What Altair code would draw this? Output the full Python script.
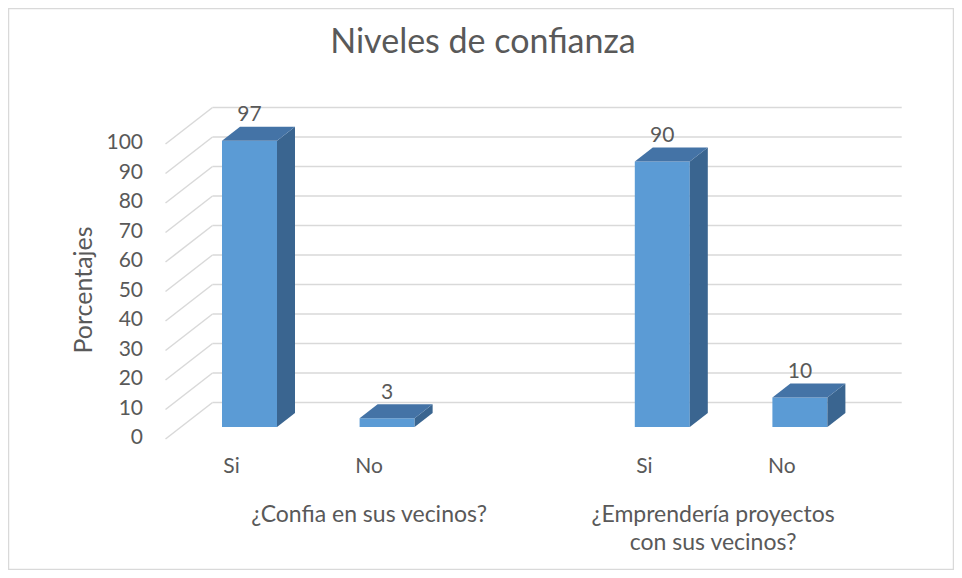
import altair as alt
import pandas as pd

# ---------------- data ----------------
chart_title = "Niveles de confianza"
y_title = "Porcentajes"
questions = ["¿Confia en sus vecinos?", "¿Emprendería proyectos\ncon sus vecinos?"]
question_span = [(0, 2), (3, 4)]          # category slots covered by each question
answers = ["Si", "No", "Si", "No"]
answer_slot = [0, 1, 3, 4]
values = [97, 3, 90, 10]
y_ticks = [0, 10, 20, 30, 40, 50, 60, 70, 80, 90, 100]

# ---------------- layout / style ----------------
W, H = 946, 562
PX_X = 137.6          # px per category slot
PX_Y = 2.95           # px per percentage point
X0_PX = 241.5         # svg x of slot 0
Y0_PX = 431.0         # svg y of value 0 on front plane


def ux(px):
    return px / PX_X


def uy(px):
    return px / PX_Y


x_dom = [-X0_PX / PX_X, (W - X0_PX) / PX_X]
y_dom = [-(H - Y0_PX) / PX_Y, Y0_PX / PX_Y]

BAR_HALF = ux(27.5)
BAR_BASE = uy(12)
BAR_DX, BAR_DY = ux(18), uy(14)
WALL_DX, WALL_DY = ux(47), uy(36.5)
FLOOR_LEFT = ux(157.5 - X0_PX)
WALL_RIGHT = ux(893.7 - X0_PX)

FONT = "Lato"
TXT = "#595959"
GRID = "#d9d9d9"
C_FRONT = "#5b9bd5"
C_TOP = "#4473a6"
C_SIDE = "#3a6590"
FS = 21

xs = alt.Scale(domain=x_dom, nice=False, zero=False)
ys = alt.Scale(domain=y_dom, nice=False, zero=False)


def X(f):
    return alt.X(f, type="quantitative", scale=xs, axis=None)


def Y(f):
    return alt.Y(f, type="quantitative", scale=ys, axis=None)


# ---------------- tables ----------------
grid_back = pd.DataFrame({
    "x": [FLOOR_LEFT + WALL_DX] * len(y_ticks),
    "x2": [WALL_RIGHT] * len(y_ticks),
    "y": [v + WALL_DY for v in y_ticks],
})
grid_side = pd.DataFrame({
    "x": [FLOOR_LEFT] * len(y_ticks),
    "x2": [FLOOR_LEFT + WALL_DX] * len(y_ticks),
    "y": [float(v) for v in y_ticks],
    "y2": [v + WALL_DY for v in y_ticks],
})

front = pd.DataFrame({
    "bar": list(range(len(values))),
    "xl": [s - BAR_HALF for s in answer_slot],
    "xr": [s + BAR_HALF for s in answer_slot],
    "lo": [BAR_BASE] * len(values),
    "hi": [BAR_BASE + v for v in values],
})

side_rows, top_rows = [], []
for i, (s, v) in enumerate(zip(answer_slot, values)):
    side_rows.append({"bar": i, "x": s + BAR_HALF, "lo": BAR_BASE, "hi": BAR_BASE + v})
    side_rows.append({"bar": i, "x": s + BAR_HALF + BAR_DX,
                      "lo": BAR_BASE + BAR_DY, "hi": BAR_BASE + v + BAR_DY})
    top_rows.append({"bar": i, "y": BAR_BASE + v, "xl": s - BAR_HALF, "xr": s + BAR_HALF})
    top_rows.append({"bar": i, "y": BAR_BASE + v + BAR_DY,
                     "xl": s - BAR_HALF + BAR_DX, "xr": s + BAR_HALF + BAR_DX})
side = pd.DataFrame(side_rows)
top = pd.DataFrame(top_rows)

value_labels = pd.DataFrame({
    "x": [float(s) for s in answer_slot],
    "y": [BAR_BASE + v + BAR_DY for v in values],
    "t": [str(v) for v in values],
})
tick_labels = pd.DataFrame({
    "x": [ux(135 - X0_PX)] * len(y_ticks),
    "y": [float(v) for v in y_ticks],
    "t": [str(v) for v in y_ticks],
})
cat_labels = pd.DataFrame({
    "x": [s - ux(18) for s in answer_slot],
    "y": [0.0] * len(answers),
    "t": answers,
})
group_labels = pd.DataFrame({
    "x": [(a + b) / 2 - ux(18) for a, b in question_span],
    "y": [0.0] * len(questions),
    "t": questions,
})
title_df = pd.DataFrame({"x": [ux(475 - X0_PX)], "y": [uy(Y0_PX - 35)], "t": [chart_title]})
ytitle_df = pd.DataFrame({"x": [ux(76 - X0_PX)], "y": [uy(Y0_PX - 282)], "t": [y_title]})

# ---------------- layers ----------------
l_grid_back = alt.Chart(grid_back).mark_rule(color=GRID, strokeWidth=1.5).encode(
    x=X("x"), x2="x2", y=Y("y"))
l_grid_side = alt.Chart(grid_side).mark_rule(color=GRID, strokeWidth=1.5).encode(
    x=X("x"), x2="x2", y=Y("y"), y2="y2")

l_front = alt.Chart(front).mark_rect(color=C_FRONT).encode(
    x=X("xl"), x2="xr", y=Y("lo"), y2="hi")
l_side = alt.Chart(side).mark_area(color=C_SIDE, opacity=1).encode(
    x=X("x"), y=Y("lo"), y2="hi", detail="bar:N")
l_top = alt.Chart(top).mark_area(color=C_TOP, opacity=1, orient="horizontal").encode(
    y=Y("y"), x=X("xl"), x2="xr", detail="bar:N")

l_vals = alt.Chart(value_labels).mark_text(
    font=FONT, fontSize=FS, color=TXT, baseline="middle", dy=-11.5).encode(
    x=X("x"), y=Y("y"), text="t:N")
l_ticks = alt.Chart(tick_labels).mark_text(
    font=FONT, fontSize=FS, color=TXT, align="right", baseline="middle", dy=-1).encode(
    x=X("x"), y=Y("y"), text="t:N")
l_cats = alt.Chart(cat_labels).mark_text(
    font=FONT, fontSize=FS, color=TXT, baseline="middle", dy=28).encode(
    x=X("x"), y=Y("y"), text="t:N")
l_groups = alt.Chart(group_labels).mark_text(
    font=FONT, fontSize=23, color=TXT, baseline="top", dy=65, lineBreak="\n",
    lineHeight=28).encode(
    x=X("x"), y=Y("y"), text="t:N")
l_title = alt.Chart(title_df).mark_text(
    font=FONT, fontSize=34, color=TXT, baseline="middle").encode(
    x=X("x"), y=Y("y"), text="t:N")
l_ytitle = alt.Chart(ytitle_df).mark_text(
    font=FONT, fontSize=25, color=TXT, baseline="middle", angle=270).encode(
    x=X("x"), y=Y("y"), text="t:N")

chart = alt.layer(
    l_grid_back, l_grid_side, l_front, l_side, l_top,
    l_vals, l_ticks, l_cats, l_groups, l_title, l_ytitle
).properties(
    width=W, height=H, padding=0,
    autosize=alt.AutoSizeParams(type="none"),
).configure_view(stroke=GRID, strokeWidth=2.5)

chart.save("out.html", embed_options={"renderer": "svg", "actions": False})
